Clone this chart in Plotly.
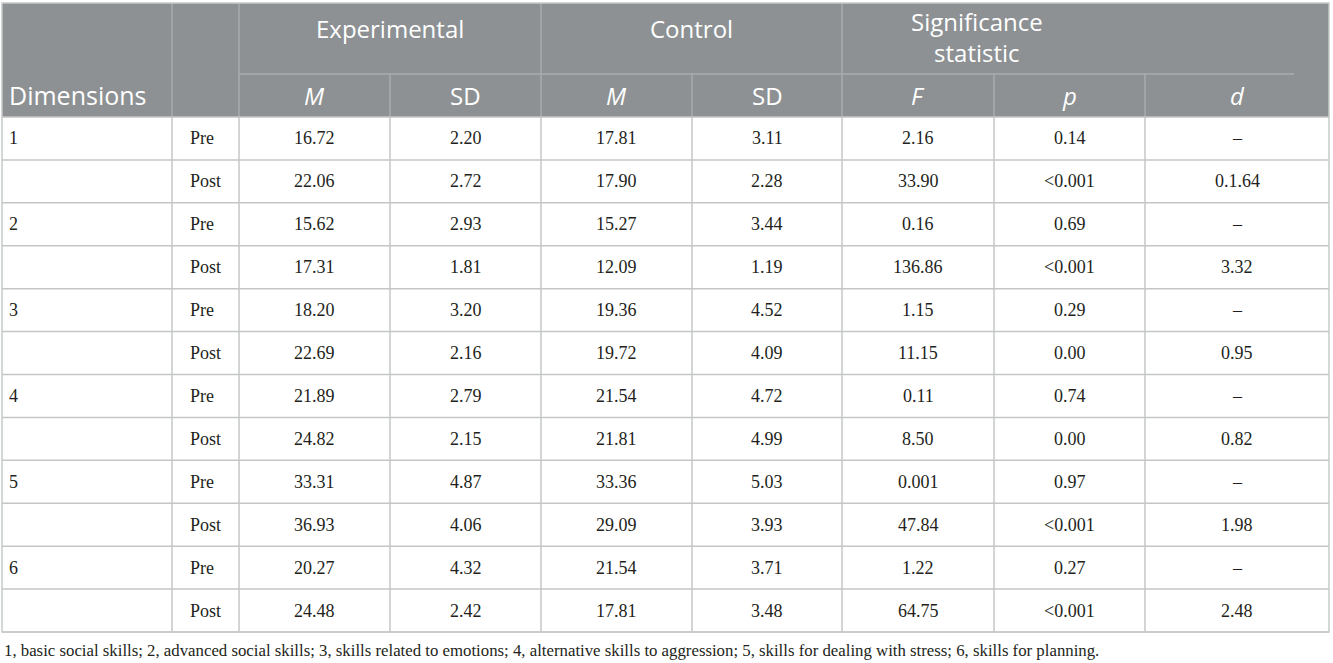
import plotly.graph_objects as go

# ---------------- data ----------------
dimensions = ["1", "", "2", "", "3", "", "4", "", "5", "", "6", ""]
phases = ["Pre", "Post"] * 6
exp_m = ["16.72", "22.06", "15.62", "17.31", "18.20", "22.69", "21.89", "24.82", "33.31", "36.93", "20.27", "24.48"]
exp_sd = ["2.20", "2.72", "2.93", "1.81", "3.20", "2.16", "2.79", "2.15", "4.87", "4.06", "4.32", "2.42"]
ctl_m = ["17.81", "17.90", "15.27", "12.09", "19.36", "19.72", "21.54", "21.81", "33.36", "29.09", "21.54", "17.81"]
ctl_sd = ["3.11", "2.28", "3.44", "1.19", "4.52", "4.09", "4.72", "4.99", "5.03", "3.93", "3.71", "3.48"]
f_stat = ["2.16", "33.90", "0.16", "136.86", "1.15", "11.15", "0.11", "8.50", "0.001", "47.84", "1.22", "64.75"]
p_val = ["0.14", "<0.001", "0.69", "<0.001", "0.29", "0.00", "0.74", "0.00", "0.97", "<0.001", "0.27", "<0.001"]
d_val = ["–", "0.1.64", "–", "3.32", "–", "0.95", "–", "0.82", "–", "1.98", "–", "2.48"]

group_headers = ["Experimental", "Control"]
sig_header = "Significance<br>statistic"
sub_headers = ["<i>M</i>", "SD", "<i>M</i>", "SD", "<i>F</i>", "<i>p</i>", "<i>d</i>"]
first_header = "Dimensions"
footnote = ("1, basic social skills; 2, advanced social skills; 3, skills related to emotions; "
            "4, alternative skills to aggression; 5, skills for dealing with stress; 6, skills for planning.")

# ---------------- layout constants ----------------
W, H = 1333, 663
col_edges = [2, 172, 239, 390, 541, 692, 842, 994, 1145, 1329]
top, head_mid, head_bot, body_bot = 3, 74, 117, 632
n_rows = len(phases)
row_h = (body_bot - head_bot) / n_rows

HEAD_BG = "#8d9193"
HEAD_LINE = "#a9adaf"
GRID = "#c4c6c6"
BORDER = "#c5cac8"
TXT = "#231f20"
SERIF = "Liberation Serif"
SANS = "Open Sans"

fig = go.Figure()
shapes = []
ann = []

# header background
shapes.append(dict(type="rect", x0=col_edges[0], x1=col_edges[-1], y0=top, y1=head_bot,
                   fillcolor=HEAD_BG, line=dict(width=0), layer="below"))
# header lines
shapes.append(dict(type="line", x0=col_edges[2], x1=1294, y0=head_mid, y1=head_mid,
                   line=dict(color=HEAD_LINE, width=1.5)))
for i in [1, 2, 4, 6]:
    shapes.append(dict(type="line", x0=col_edges[i], x1=col_edges[i], y0=top, y1=head_bot,
                       line=dict(color=HEAD_LINE, width=1.5)))
for i in [3, 5, 7, 8]:
    shapes.append(dict(type="line", x0=col_edges[i], x1=col_edges[i], y0=head_mid, y1=head_bot,
                       line=dict(color=HEAD_LINE, width=1.5)))

# body grid
for r in range(n_rows + 1):
    y = head_bot + r * row_h
    shapes.append(dict(type="line", x0=col_edges[0], x1=col_edges[-1], y0=y, y1=y,
                       line=dict(color=GRID, width=1.5)))
for i in range(1, len(col_edges) - 1):
    shapes.append(dict(type="line", x0=col_edges[i], x1=col_edges[i], y0=head_bot, y1=body_bot,
                       line=dict(color=GRID, width=1.5)))
# outer border
shapes.append(dict(type="rect", x0=col_edges[0], x1=col_edges[-1], y0=top, y1=body_bot,
                   line=dict(color=BORDER, width=1.5), fillcolor="rgba(0,0,0,0)"))

hfont = dict(family=SANS, size=24, color="white")
bfont = dict(family=SERIF, size=18, color=TXT)

# header text
ann.append(dict(x=7, y=95, text=first_header, xanchor="left", yanchor="middle",
                font=dict(family=SANS, size=25, color="white")))
group_x = [(col_edges[2] + col_edges[4]) / 2, (col_edges[4] + col_edges[6]) / 2]
for t, gx in zip(group_headers, group_x):
    ann.append(dict(x=gx, y=28, text=t, xanchor="center", yanchor="middle", font=hfont))
ann.append(dict(x=977, y=37, text=sig_header, xanchor="center", yanchor="middle", font=hfont))
for k, t in enumerate(sub_headers):
    cx = (col_edges[k + 2] + col_edges[k + 3]) / 2
    ann.append(dict(x=cx, y=95, text=t, xanchor="center", yanchor="middle", font=hfont))

# body text
value_cols = [exp_m, exp_sd, ctl_m, ctl_sd, f_stat, p_val, d_val]
for r in range(n_rows):
    cy = head_bot + (r + 0.5) * row_h
    if dimensions[r]:
        ann.append(dict(x=7, y=cy, text=dimensions[r], xanchor="left", yanchor="middle", font=bfont))
    ann.append(dict(x=188, y=cy, text=phases[r], xanchor="left", yanchor="middle", font=bfont))
    for k, col in enumerate(value_cols):
        cx = (col_edges[k + 2] + col_edges[k + 3]) / 2
        txt = col[r].replace("<", "&lt;")
        ann.append(dict(x=cx, y=cy, text=txt, xanchor="center", yanchor="middle", font=bfont))

ann.append(dict(x=2, y=650, text=footnote, xanchor="left", yanchor="middle",
                font=dict(family=SERIF, size=16.8, color=TXT)))

for a in ann:
    a.update(xref="x", yref="y", showarrow=False)

fig.update_layout(
    width=W, height=H, margin=dict(l=0, r=0, t=0, b=0),
    paper_bgcolor="white", plot_bgcolor="white",
    xaxis=dict(range=[0, W], visible=False, fixedrange=True),
    yaxis=dict(range=[H, 0], visible=False, fixedrange=True),
    shapes=shapes, annotations=ann, showlegend=False,
)

fig.write_html(
    "out.html",
    config={"displayModeBar": False},
    post_script="document.body.style.margin='0';document.body.style.padding='0';"
                "document.body.style.overflow='hidden';",
)
